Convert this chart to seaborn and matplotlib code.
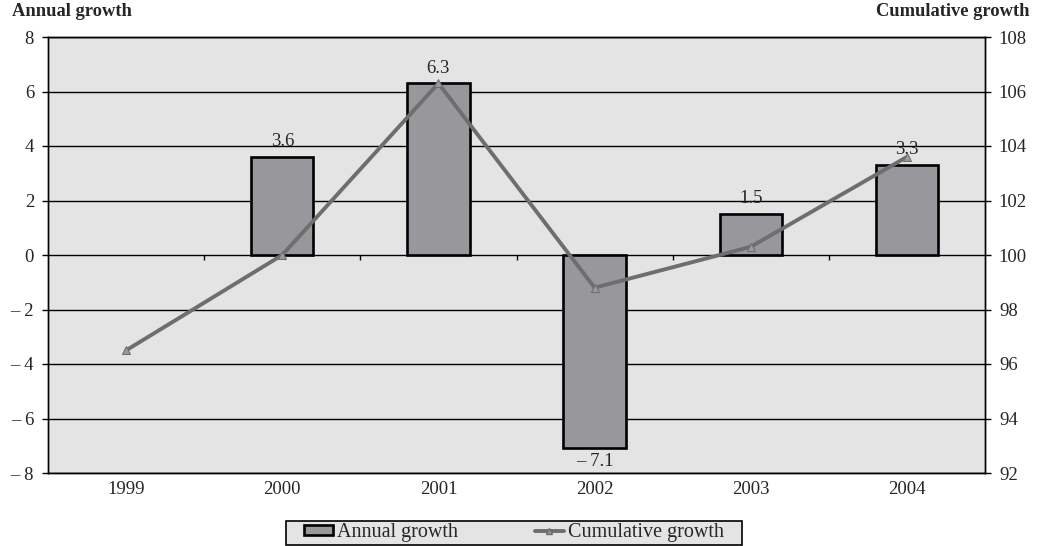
import numpy as np
import pandas as pd
import matplotlib
matplotlib.use("Agg")
import matplotlib.pyplot as plt
from matplotlib.patches import Patch, Rectangle
from matplotlib.lines import Line2D
import seaborn as sns

# Data
years = ["1999", "2000", "2001", "2002", "2003", "2004"]
annual_growth = [np.nan, 3.6, 6.3, -7.1, 1.5, 3.3]
cumulative_growth = [96.5, 100.0, 106.3, 98.8, 100.3, 103.6]
left_ticks = [-8, -6, -4, -2, 0, 2, 4, 6, 8]
right_ticks = [92, 94, 96, 98, 100, 102, 104, 106, 108]

sns.set_theme(style="white")
plt.rcParams["font.family"] = ["Liberation Serif", "DejaVu Serif"]

BG = "#e4e4e4"
BAR = "#98979c"
LINE = "#6e6e6e"
W, H = 1041, 546

df = pd.DataFrame({"year": years, "annual": annual_growth,
                   "cum": cumulative_growth, "pos": np.arange(len(years))})

fig = plt.figure(figsize=(W / 100, H / 100), dpi=100)
ax = fig.add_axes([48 / W, 73 / H, 937 / W, 436 / H])
ax.set_facecolor(BG)

sns.barplot(data=df, x="year", y="annual", color=BAR, width=0.4,
            edgecolor="black", linewidth=1.9, saturation=1, ax=ax, zorder=3)

ax.set_xlim(-0.5, len(years) - 0.5)
ax.set_ylim(-8, 8)
ax.set_yticks(left_ticks)
ax.set_yticklabels([f"\u2013 {abs(v)}" if v < 0 else str(v) for v in left_ticks])
for v in left_ticks:
    ax.axhline(v, color="black", lw=1.0, zorder=1)
ax.set_xlabel("")
ax.set_ylabel("")
ax.tick_params(axis="x", length=0, labelsize=13.5, pad=6)
ax.tick_params(axis="y", left=True, length=4, width=1, color="black",
               labelsize=13.5, pad=6)
for s in ax.spines.values():
    s.set_color("black")
    s.set_linewidth(1.0)

# category boundary ticks on the zero line
ax.vlines(np.arange(0.5, len(years) - 0.5), 0, -0.2, color="black", lw=1.0, zorder=2)

# value labels
for i, v in enumerate(annual_growth):
    if np.isnan(v):
        continue
    txt = f"\u2013 {abs(v):.1f}" if v < 0 else f"{v:.1f}"
    if v >= 0:
        ax.text(i, v + 0.25, txt, ha="center", va="bottom", fontsize=13.5, zorder=6)
    else:
        ax.text(i, v - 0.15, txt, ha="center", va="top", fontsize=13.5, zorder=6)

ax2 = ax.twinx()
sns.lineplot(data=df, x="pos", y="cum", color=LINE, lw=2.8, marker="^",
             markersize=6, markerfacecolor="#9a9a9a", markeredgecolor=LINE,
             ax=ax2, zorder=5)
ax2.set_ylim(92, 108)
ax2.set_yticks(right_ticks)
ax2.set_xlim(-0.5, len(years) - 0.5)
ax2.set_xlabel("")
ax2.set_ylabel("")
ax2.tick_params(axis="y", right=True, length=4, width=1, color="black",
                labelsize=13.5, pad=6)
ax2.grid(False)
for s in ax2.spines.values():
    s.set_color("black")
    s.set_linewidth(1.0)

fig.text(12 / W, 1 - 12 / H, "Annual growth", fontsize=13.3,
         fontweight="bold", ha="left", va="center")
fig.text(1030 / W, 1 - 12 / H, "Cumulative growth", fontsize=13.3,
         fontweight="bold", ha="right", va="center")

# legend box
fig.patches.append(Rectangle((286 / W, 1 - 545 / H), 456 / W, 24 / H,
                             transform=fig.transFigure, facecolor=BG,
                             edgecolor="black", linewidth=1.2, zorder=1))
handles = [
    Patch(facecolor=BAR, edgecolor="black", linewidth=1.9, label="Annual growth"),
    Line2D([0], [0], color=LINE, lw=2.8, marker="^", markersize=5,
           markerfacecolor="#9a9a9a", markeredgecolor=LINE, label="Cumulative growth"),
]
leg = fig.legend(handles=handles, loc="center", bbox_to_anchor=(514 / W, 1 - 533 / H),
                 ncol=2, frameon=False, fontsize=14.5,
                 handlelength=1.45, handleheight=0.4, handletextpad=0.2,
                 columnspacing=3.8, borderpad=0.1)
leg.set_zorder(2)

fig.savefig("out.png", dpi=100, facecolor="white")
